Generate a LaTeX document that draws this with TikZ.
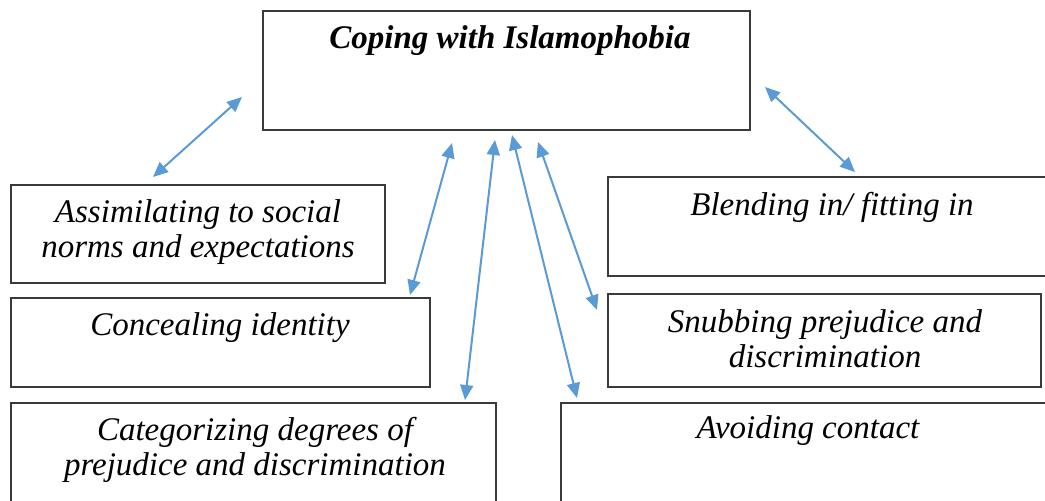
\documentclass[tikz,border=0pt]{standalone}
\usepackage{fontspec}
\setmainfont{Liberation Serif}
\usetikzlibrary{arrows.meta}
\definecolor{arrowblue}{HTML}{5B9BD5}
\definecolor{boxgray}{HTML}{3A3A3A}
\begin{document}
\begin{tikzpicture}[x=1pt,y=-1pt,
  box/.style={draw=boxgray, line width=2pt, rectangle, inner sep=0pt, outer sep=0pt},
  caption/.style={anchor=base, inner sep=0pt, align=center,
    font=\fontsize{33}{34.5}\selectfont\itshape},
  link/.style={arrowblue, line width=2pt,
    {Triangle[length=15pt,width=13pt]}-{Triangle[length=15pt,width=13pt]}}]

  \useasboundingbox (0,0) rectangle (1045,501);
  \clip (0,0) rectangle (1045,501);
  \fill[white] (0,0) rectangle (1045,501);

  % boxes
  \node[box, minimum width=487pt, minimum height=119pt] (core)    at (506.5,70.5) {};
  \node[box, minimum width=374pt, minimum height=98pt]  (assim)   at (198,234) {};
  \node[box, minimum width=419pt, minimum height=89pt]  (conceal) at (220.5,342.5) {};
  \node[box, minimum width=485pt, minimum height=137pt] (categ)   at (253.5,471.5) {};
  \node[box, minimum width=452pt, minimum height=99pt]  (blend)   at (834,226.5) {};
  \node[box, minimum width=433pt, minimum height=93pt]  (snub)    at (824.5,340.5) {};
  \node[box, minimum width=499pt, minimum height=137pt] (avoid)   at (810.5,471.5) {};

  % captions (base anchor of a two-line caption sits on its last line)
  \node[caption, font=\fontsize{33}{34.5}\selectfont\bfseries\itshape] (tcore) at (510,48) {Coping with Islamophobia};
  \node[caption] (tassim)   at (198,257) {Assimilating to social\\norms and expectations};
  \node[caption] (tconceal) at (220,335) {Concealing identity};
  \node[caption] (tcateg)   at (255,475) {Categorizing degrees of\\prejudice and discrimination};
  \node[caption] (tblend)   at (832,215) {Blending in/ fitting in};
  \node[caption] (tsnub)    at (825,367) {Snubbing prejudice and\\discrimination};
  \node[caption] (tavoid)   at (808,438) {Avoiding contact};

  % arrow end points
  \coordinate (a1) at (242,97);  \coordinate (a2) at (153,177);
  \coordinate (b1) at (765,87);  \coordinate (b2) at (855,172);
  \coordinate (c1) at (452,143); \coordinate (c2) at (410,295);
  \coordinate (d1) at (495,140); \coordinate (d2) at (465,400);
  \coordinate (e1) at (512,135); \coordinate (e2) at (577,398);
  \coordinate (f1) at (538,142); \coordinate (f2) at (597,310);

  % two-way links
  \draw[link] (a1) -- (a2);
  \draw[link] (b1) -- (b2);
  \draw[link] (c1) -- (c2);
  \draw[link] (d1) -- (d2);
  \draw[link] (e1) -- (e2);
  \draw[link] (f1) -- (f2);
\end{tikzpicture}
\end{document}
